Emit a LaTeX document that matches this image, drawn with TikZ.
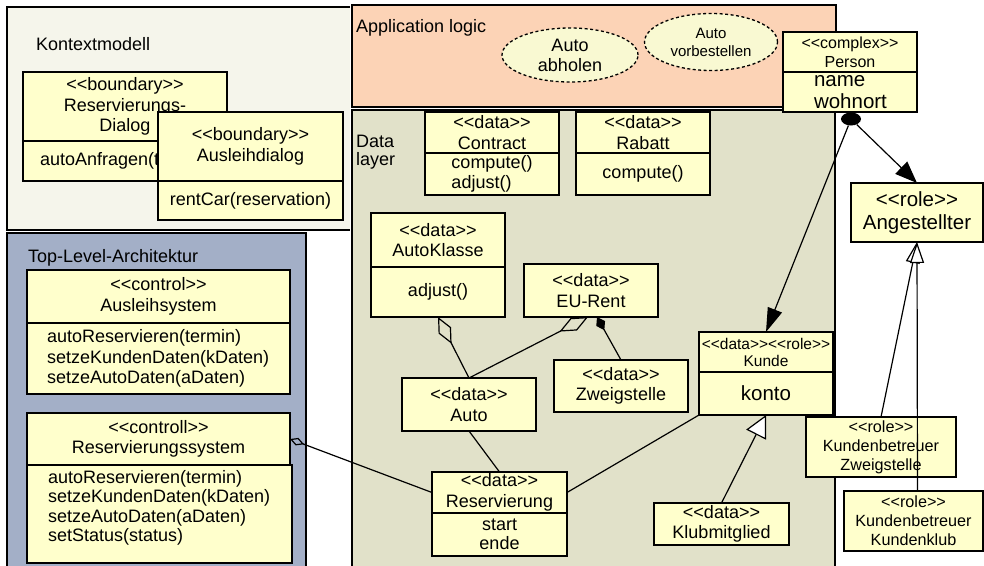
\documentclass[tikz,border=0pt]{standalone}
\usepackage{fontspec}
\setmainfont{Liberation Sans}[Ligatures=TeXOff]
\usetikzlibrary{arrows.meta,calc,shapes.geometric}
\newcommand{\myfs}[2]{\fontsize{#1pt}{#2pt}\selectfont}
\newcommand{\st}[1]{<<#1>>}
\definecolor{ctxbg}{HTML}{F5F5EB}
\definecolor{appbg}{HTML}{FCD3B6}
\definecolor{databg}{HTML}{E1E1C9}
\definecolor{topbg}{HTML}{A3AFC7}
\definecolor{boxbg}{HTML}{FFFFCC}
\definecolor{ellbg}{HTML}{F9F9D2}
\begin{document}
\begin{tikzpicture}[x=1pt,y=-1pt,
  panel/.style={draw=black,line width=1.6pt},
  box/.style={draw=black,line width=1.3pt,fill=boxbg,anchor=north west,inner sep=0pt,outer sep=0pt,align=center,font=\myfs{18}{20.5}},
  lbl/.style={inner sep=0pt,outer sep=0pt,font=\myfs{18}{20.5}},
  ell/.style={ellipse,draw=black,line width=1.3pt,dash pattern=on 3pt off 2.5pt,fill=ellbg,inner sep=0pt,align=center,font=\myfs{18}{20}},
  conn/.style={draw=black,line width=1.2pt}]
\useasboundingbox (0,0) rectangle (984,565);
\fill[white] (0,0) rectangle (984,565);
% panels
\fill[ctxbg] (7,7) rectangle (350,230);
\draw[panel] (350,7) -- (7,7) -- (7,230) -- (350,230);
\fill[topbg] (7,233) rectangle (306,567);
\draw[panel] (7,567) -- (7,233) -- (306,233) -- (306,567);
\fill[appbg] (352,5) rectangle (836,107);
\draw[panel] (352,5) rectangle (836,107);
\fill[databg] (352,110) rectangle (835,567);
\draw[panel] (352,567) -- (352,110) -- (835,110) -- (835,567);
% panel labels
\node[lbl,anchor=base west] (ctxlabel) at (36,50) {Kontextmodell};
\node[lbl,anchor=base west] (applabel) at (356,32) {Application logic};
\node[lbl,anchor=north west,align=left,font=\myfs{18}{18.5}] (datalabel) at (356,135) {Data\\layer};
\node[lbl,anchor=base west] (toplabel) at (28,262) {Top-Level-Architektur};
% Kontextmodell
\node[box,minimum width=204pt,minimum height=69pt] (rdh) at (23,72) {\st{boundary}\\Reservierungs-\\Dialog};
\node[box,minimum width=204pt,minimum height=40pt,align=left,text width=170pt,inner xsep=17pt] (rdb) at (23,141) {autoAnfragen(t};
\node[box,minimum width=185pt,minimum height=69pt] (adh) at (158,112) {\st{boundary}\\Ausleihdialog};
\node[box,minimum width=185pt,minimum height=39pt] (adb) at (158,181) {rentCar(reservation)};
% Application logic
\node[ell,minimum width=136pt,minimum height=54pt] (abholen) at (570,55) {Auto\\abholen};
\node[ell,minimum width=133pt,minimum height=57pt,font=\myfs{15}{18}] (vorbest) at (711,42) {Auto\\vorbestellen};
% Person
\node[box,minimum width=134pt,minimum height=40pt,font=\myfs{16}{19}] (personh) at (783,32) {\st{complex}\\Person};
\node[box,minimum width=134pt,minimum height=40pt,font=\myfs{20.5}{22},align=left,text width=72pt,inner xsep=31pt] (personb) at (783,72) {name\\wohnort};
\node[box,minimum width=132pt,minimum height=59pt,font=\myfs{20.5}{23}] (angest) at (851,183) {\st{role}\\Angestellter};
% Data layer
\node[box,minimum width=134pt,minimum height=41pt] (contracth) at (425,112) {\st{data}\\Contract};
\node[box,minimum width=134pt,minimum height=42pt,align=left] (contractb) at (425,153) {compute()\\adjust()};
\node[box,minimum width=134pt,minimum height=41pt] (rabatth) at (576,112) {\st{data}\\Rabatt};
\node[box,minimum width=134pt,minimum height=42pt] (rabattb) at (576,153) {compute()};
\node[box,minimum width=134pt,minimum height=54pt] (autoklh) at (371,213) {\st{data}\\AutoKlasse};
\node[box,minimum width=134pt,minimum height=50pt] (autoklb) at (371,267) {adjust()};
\node[box,minimum width=134pt,minimum height=53pt] (eurent) at (524,264) {\st{data}\\EU-Rent};
\node[box,minimum width=134pt,minimum height=52pt] (zweig) at (554,360) {\st{data}\\Zweigstelle};
\node[box,minimum width=134pt,minimum height=53pt] (auto) at (402,378) {\st{data}\\Auto};
\node[box,minimum width=135pt,minimum height=41pt] (resh) at (432,472) {\st{data}\\Reservierung};
\node[box,minimum width=135pt,minimum height=43pt,font=\myfs{18}{19}] (resb) at (432,513) {start\\ende};
\node[box,minimum width=134pt,minimum height=40pt,font=\myfs{15.5}{17}] (kundeh) at (699,332) {\st{data}\st{role}\\Kunde};
\node[box,minimum width=134pt,minimum height=43pt,font=\myfs{20.5}{22}] (kundeb) at (699,372) {konto};
\node[box,minimum width=135pt,minimum height=42pt] (klub) at (654,503) {\st{data}\\Klubmitglied};
% roles
\node[box,minimum width=150pt,minimum height=60pt,font=\myfs{16.2}{19}] (kbz) at (806,417) {\st{role}\\Kundenbetreuer\\Zweigstelle};
\node[box,minimum width=139pt,minimum height=60pt,font=\myfs{16.2}{19}] (kbk) at (844,491) {\st{role}\\Kundenbetreuer\\Kundenklub};
% Top-Level
\node[box,minimum width=263pt,minimum height=53pt] (aush) at (27,270) {\st{control}\\Ausleihsystem};
\node[box,minimum width=263pt,minimum height=71pt,align=left,text width=223pt,inner xsep=20pt] (ausb) at (27,323) {autoReservieren(termin)\\setzeKundenDaten(kDaten)\\setzeAutoDaten(aDaten)};
\node[box,minimum width=263pt,minimum height=52pt] (rsh) at (27,413) {\st{controll}\\Reservierungssystem};
\node[box,minimum width=265pt,minimum height=98pt] (rsb) at (27,465) {};
\node[lbl,anchor=north west,align=left,font=\myfs{18}{19.5}] (rstext) at (48,470) {autoReservieren(termin)\\setzeKundenDaten(kDaten)\\setzeAutoDaten(aDaten)\\setStatus(status)};
% connectors
\node[fill=black,ellipse,minimum width=20pt,minimum height=13pt,inner sep=0pt] (ball) at (851,119) {};
\draw[conn,-{Triangle[length=22pt,width=17pt]}] (ball) -- (angest.north);
\draw[conn,-{Triangle[length=24pt,width=15pt]}] (ball) -- (kundeh.north);
\draw[conn,-{Triangle[fill=white,length=21pt,width=14pt]}] (kbz.north) -- (angest.south);
\draw[conn,-{Triangle[fill=white,length=21pt,width=14pt]}] ($(kbk.north)+(4,0)$) -- (angest.south);
\draw[conn,-{Triangle[fill=white,length=22pt,width=22pt]}] (klub.north) -- (kundeb.south);
\draw[conn] (kundeb.south west) -- (resh.east);
\draw[conn,{Diamond[open,length=15pt,width=8pt]}-] (rsh.east) -- (resh.west);
\draw[conn] (auto.south) -- (resh.north);
\draw[conn,{Diamond[open,length=30pt,width=14pt]}-] (autoklb.south) -- (auto.north);
\draw[conn,{Diamond[open,length=32pt,width=14pt]}-] ($(eurent.south)+(-3,0)$) -- (auto.north);
\draw[conn,{Diamond[length=15pt,width=10pt]}-] ($(eurent.south)+(6,0)$) -- (zweig.north);
\end{tikzpicture}
\end{document}
